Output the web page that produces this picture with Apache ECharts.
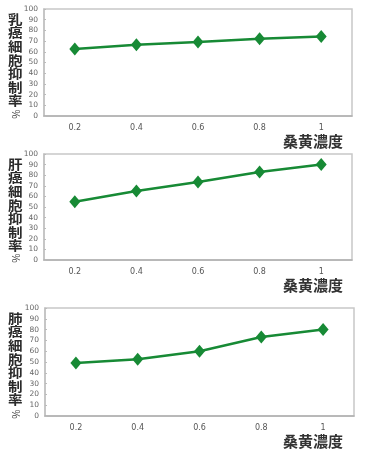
<!DOCTYPE html>
<html><head><meta charset="utf-8">
<script src="https://cdn.jsdelivr.net/npm/echarts@6/dist/echarts.min.js"></script>
<style>html,body{margin:0;padding:0;background:#fff}#c{width:368px;height:464px}</style>
</head><body><div id="c"></div>
<script>
const categories = ['0.2', '0.4', '0.6', '0.8', '1'];
const breastValues = [62.7, 66.6, 69.2, 72.2, 74.3];
const liverValues = [55, 65, 73.5, 83, 90];
const lungValues = [49, 52.5, 60, 73.2, 80];
const yTicks = { min: 0, max: 100, interval: 10 };
const yNames = ['乳癌細胞抑制率', '肝癌細胞抑制率', '肺癌細胞抑制率'];
const xName = '桑黄濃度';

const grids = [
  { left: 44, top: 9, width: 308, height: 107 },
  { left: 44, top: 154, width: 308, height: 106 },
  { left: 45, top: 308, width: 309, height: 108 }
];
const seriesData = [breastValues, liverValues, lungValues];
const green = '#178a35';

const chart = echarts.init(document.getElementById('c'), null, { renderer: 'canvas' });
const graphic = [];
grids.forEach((g, i) => {
  const chars = yNames[i].split('').join('\n');
  graphic.push({
    type: 'text', x: 8, y: g.top + 3, scaleX: 1.12,
    style: { text: chars, font: 'bold 13px "Noto Sans CJK JP"', lineHeight: 13.6, fill: '#2a2a2a' }
  });
  graphic.push({
    type: 'text', x: 16, y: g.top + g.height - 2, rotation: -Math.PI / 2,
    style: { text: '%', font: '10px "Noto Sans CJK JP"', fill: '#444', align: 'center', verticalAlign: 'middle' }
  });
  graphic.push({
    type: 'text', left: 283, top: g.top + g.height + 18,
    style: { text: xName, font: 'bold 15px "Noto Sans CJK JP"', fill: '#333' }
  });
});

chart.setOption({
  animation: false,
  grid: grids.map(g => Object.assign({ show: true, borderColor: '#c8c8c8', borderWidth: 1.5, backgroundColor: '#fff' }, g)),
  xAxis: grids.map((g, i) => ({
    type: 'category', gridIndex: i, data: categories, boundaryGap: true,
    axisLine: { lineStyle: { color: '#b0b0b0', width: 1.5 } },
    axisTick: { inside: true, length: 3, lineStyle: { color: '#aaa' } },
    axisLabel: { fontSize: 8, color: '#555', margin: 8, fontFamily: 'DejaVu Sans' }
  })),
  yAxis: grids.map((g, i) => ({
    type: 'value', gridIndex: i, min: yTicks.min, max: yTicks.max, interval: yTicks.interval,
    splitLine: { show: false },
    axisLine: { show: true, lineStyle: { color: '#c0c0c0', width: 1.5 } },
    axisTick: { show: true, inside: true, length: 2, lineStyle: { color: '#bbb' } },
    axisLabel: { fontSize: 7.5, color: '#666', margin: 6, fontFamily: 'DejaVu Sans' }
  })),
  series: seriesData.map((d, i) => ({
    type: 'line', xAxisIndex: i, yAxisIndex: i, data: d,
    symbol: 'diamond', symbolSize: [11, 13],
    lineStyle: { color: green, width: 2.5 },
    itemStyle: { color: green }
  })),
  graphic: graphic
});
</script></body></html>
